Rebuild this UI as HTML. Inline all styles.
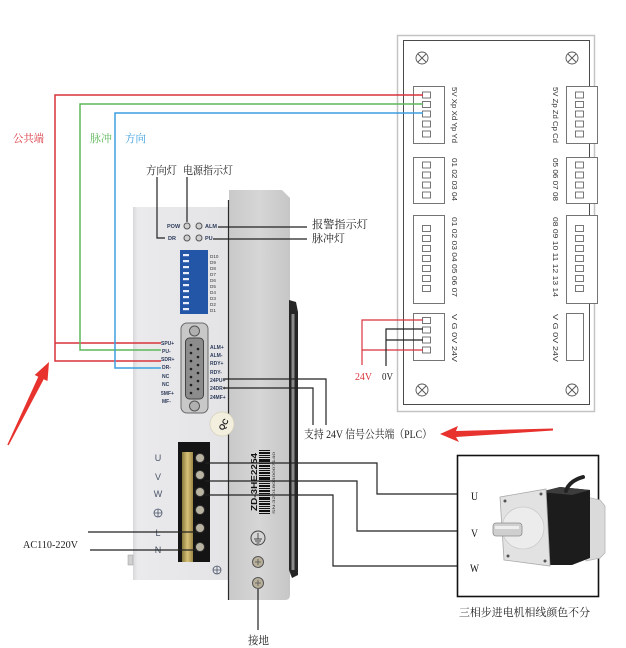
<!DOCTYPE html>
<html><head><meta charset="utf-8"><style>
html,body{margin:0;padding:0;background:#fff;}
svg{display:block;}
.cn{font-family:"Liberation Serif","Noto Serif CJK SC",serif;}
.s{font-family:"Liberation Sans",sans-serif;}
</style></head><body>
<svg width="626" height="648" viewBox="0 0 626 648" xmlns="http://www.w3.org/2000/svg">
<defs>
<linearGradient id="side" x1="0" y1="0" x2="1" y2="0">
<stop offset="0" stop-color="#c9c9c9"/><stop offset="0.5" stop-color="#d6d6d6"/><stop offset="1" stop-color="#c6c6c6"/>
</linearGradient>
<linearGradient id="front" x1="0" y1="0" x2="1" y2="0">
<stop offset="0" stop-color="#d8d8da"/><stop offset="0.05" stop-color="#eaeaec"/><stop offset="1" stop-color="#e4e4e6"/>
</linearGradient>
<linearGradient id="yel" x1="0" y1="0" x2="1" y2="0">
<stop offset="0" stop-color="#8a7a3c"/><stop offset="0.5" stop-color="#d8c27a"/><stop offset="1" stop-color="#9c8644"/>
</linearGradient>
</defs>

<!-- ===== Right board ===== -->
<rect x="397.5" y="35.5" width="197" height="376" fill="#fff" stroke="#c4c4c4" stroke-width="1.5"/>
<rect x="403.5" y="40.5" width="186" height="364" fill="#fff" stroke="#4a4a4a" stroke-width="1"/>
<g fill="#fff" stroke="#555" stroke-width="0.9">
<circle cx="422" cy="58" r="6"/><circle cx="572" cy="58" r="6"/>
<circle cx="422" cy="390" r="6"/><circle cx="572" cy="390" r="6"/>
</g>
<g stroke="#555" stroke-width="0.9">
<path d="M418,54 L426,62 M426,54 L418,62"/>
<path d="M568,54 L576,62 M576,54 L568,62"/>
<path d="M418,386 L426,394 M426,386 L418,394"/>
<path d="M568,386 L576,394 M576,386 L568,394"/>
</g>
<g fill="#fff" stroke="#666" stroke-width="0.9">
<rect x="413.5" y="86.5" width="31" height="57"/>
<rect x="413.5" y="157.5" width="31" height="46"/>
<rect x="413.5" y="215.5" width="31" height="88"/>
<rect x="413.5" y="313.5" width="31" height="47"/>
<rect x="566.5" y="86.5" width="31" height="57"/>
<rect x="566.5" y="157.5" width="31" height="46"/>
<rect x="566.5" y="215.5" width="31" height="88"/>
<rect x="566.5" y="313.5" width="17" height="47"/>
</g>
<g fill="#fff" stroke="#555" stroke-width="0.8">
<rect x="422.5" y="92" width="8" height="6"/><rect x="422.5" y="101.5" width="8" height="6"/><rect x="422.5" y="111" width="8" height="6"/><rect x="422.5" y="121" width="8" height="6"/><rect x="422.5" y="131" width="8" height="6"/>
<rect x="422.5" y="162" width="8" height="6"/><rect x="422.5" y="172" width="8" height="6"/><rect x="422.5" y="182" width="8" height="6"/><rect x="422.5" y="192" width="8" height="6"/>
<rect x="422.5" y="225.5" width="8" height="6"/><rect x="422.5" y="235.5" width="8" height="6"/><rect x="422.5" y="245.5" width="8" height="6"/><rect x="422.5" y="255.5" width="8" height="6"/><rect x="422.5" y="265.5" width="8" height="6"/><rect x="422.5" y="275.5" width="8" height="6"/><rect x="422.5" y="285.5" width="8" height="6"/>
<rect x="422.5" y="317.5" width="8" height="6"/><rect x="422.5" y="327" width="8" height="6"/><rect x="422.5" y="337" width="8" height="6"/><rect x="422.5" y="347" width="8" height="6"/>
<rect x="575.5" y="92" width="8" height="6"/><rect x="575.5" y="101.5" width="8" height="6"/><rect x="575.5" y="111" width="8" height="6"/><rect x="575.5" y="121" width="8" height="6"/><rect x="575.5" y="131" width="8" height="6"/>
<rect x="575.5" y="162" width="8" height="6"/><rect x="575.5" y="172" width="8" height="6"/><rect x="575.5" y="182" width="8" height="6"/><rect x="575.5" y="192" width="8" height="6"/>
<rect x="575.5" y="225.5" width="8" height="6"/><rect x="575.5" y="235.5" width="8" height="6"/><rect x="575.5" y="245.5" width="8" height="6"/><rect x="575.5" y="255.5" width="8" height="6"/><rect x="575.5" y="265.5" width="8" height="6"/><rect x="575.5" y="275.5" width="8" height="6"/><rect x="575.5" y="285.5" width="8" height="6"/>
</g>
<g class="s" font-size="7.5" fill="#333">
<text transform="translate(452,87) rotate(90)" textLength="56" lengthAdjust="spacingAndGlyphs">5V Xp Xd Yp Yd</text>
<text transform="translate(452,158) rotate(90)" textLength="43" lengthAdjust="spacingAndGlyphs">01 02 03 04</text>
<text transform="translate(452,217) rotate(90)" textLength="80" lengthAdjust="spacingAndGlyphs">01 02 03 04 05 06 07</text>
<text transform="translate(452,314) rotate(90)" textLength="48" lengthAdjust="spacingAndGlyphs">V  G  0V 24V</text>
<text transform="translate(553,87) rotate(90)" textLength="56" lengthAdjust="spacingAndGlyphs">5V Zp Zd Cp Cd</text>
<text transform="translate(553,158) rotate(90)" textLength="43" lengthAdjust="spacingAndGlyphs">05 06 07 08</text>
<text transform="translate(553,217) rotate(90)" textLength="80" lengthAdjust="spacingAndGlyphs">08 09 10 11 12 13 14</text>
<text transform="translate(553,314) rotate(90)" textLength="48" lengthAdjust="spacingAndGlyphs">V  G  0V 24V</text>
</g>

<!-- ===== Driver ===== -->
<path d="M229,190 L282,190 L290,198 L290,595 Q290,600 285,600 L229,600 Z" fill="url(#side)"/>
<rect x="133" y="207" width="95" height="373" fill="url(#front)"/>
<rect x="128" y="555" width="5" height="10" fill="#cfcfcf" stroke="#999" stroke-width="0.5"/>
<line x1="228.5" y1="200" x2="228.5" y2="600" stroke="#2a2a2a" stroke-width="1.2"/>
<!-- DIN clip -->
<path d="M289,300 L296,302 L298,312 L298,575 L292,578 L289,570 Z" fill="#262626"/>
<rect x="291.5" y="314" width="3" height="256" fill="#8a8a8a"/>

<!-- LEDs -->
<g fill="#d0d0d0" stroke="#555" stroke-width="1">
<circle cx="187" cy="226" r="3"/><circle cx="199" cy="226" r="3"/>
<circle cx="187" cy="238" r="3"/><circle cx="199" cy="238" r="3"/>
</g>
<g class="s" font-size="5.5" font-weight="bold" fill="#2c3a5a">
<text x="167" y="228">POW</text><text x="168" y="240">DR</text>
<text x="205" y="228">ALM</text><text x="205" y="240">PU</text>
</g>
<!-- DIP -->
<rect x="180" y="250" width="28" height="64" fill="#2456a8"/>
<g fill="#e8eefc">
<rect x="183" y="254" width="6" height="2.2"/><rect x="183" y="260" width="6" height="2.2"/><rect x="183" y="266" width="6" height="2.2"/><rect x="183" y="272" width="6" height="2.2"/><rect x="183" y="278" width="6" height="2.2"/><rect x="183" y="284" width="6" height="2.2"/><rect x="183" y="290" width="6" height="2.2"/><rect x="183" y="296" width="6" height="2.2"/><rect x="183" y="302" width="6" height="2.2"/><rect x="183" y="308" width="6" height="2.2"/>
</g>
<g class="s" font-size="4.6" fill="#333">
<text x="210" y="258">D10</text><text x="210" y="264">D9</text><text x="210" y="270">D8</text><text x="210" y="276">D7</text><text x="210" y="282">D6</text><text x="210" y="288">D5</text><text x="210" y="294">D4</text><text x="210" y="300">D3</text><text x="210" y="306">D2</text><text x="210" y="312">D1</text>
</g>
<!-- DB15 -->
<rect x="181" y="323" width="27" height="90" rx="6" fill="#c8c8c8" stroke="#6a6a6a" stroke-width="1"/>
<circle cx="194.5" cy="331" r="5" fill="#b0b0b0" stroke="#555" stroke-width="1"/>
<circle cx="194.5" cy="406" r="5" fill="#b0b0b0" stroke="#555" stroke-width="1"/>
<rect x="185.5" y="338" width="18" height="61" rx="4" fill="#8c8c8c" stroke="#444" stroke-width="1"/>
<g fill="#1f1f1f">
<circle cx="191" cy="345" r="1.3"/><circle cx="191" cy="353" r="1.3"/><circle cx="191" cy="361" r="1.3"/><circle cx="191" cy="369" r="1.3"/><circle cx="191" cy="377" r="1.3"/><circle cx="191" cy="385" r="1.3"/><circle cx="191" cy="393" r="1.3"/>
<circle cx="198" cy="349" r="1.3"/><circle cx="198" cy="357" r="1.3"/><circle cx="198" cy="365" r="1.3"/><circle cx="198" cy="373" r="1.3"/><circle cx="198" cy="381" r="1.3"/><circle cx="198" cy="389" r="1.3"/>
</g>
<g class="s" font-size="5" fill="#2c3a5a" font-weight="bold">
<text x="161" y="345">SPU+</text><text x="162" y="353">PU-</text><text x="161" y="361">SDR+</text><text x="162" y="369">DR-</text><text x="162" y="378">NC</text><text x="162" y="386">NC</text><text x="161" y="395">5MF+</text><text x="162" y="403">MF-</text>
<text x="210" y="349">ALM+</text><text x="210" y="357">ALM-</text><text x="210" y="365">RDY+</text><text x="210" y="374">RDY-</text><text x="210" y="382">24PU+</text><text x="210" y="390">24DR+</text><text x="210" y="399">24MF+</text>
</g>
<!-- QC sticker -->
<circle cx="222" cy="424" r="12" fill="#f3efdf" stroke="#d8d2bb" stroke-width="0.8"/>
<text class="s" transform="translate(223,431) rotate(-60)" font-size="8" font-weight="bold" fill="#222">QC</text>
<!-- terminal block -->
<rect x="178" y="442" width="32" height="120" fill="#141414"/>
<rect x="182" y="452" width="11" height="110" fill="url(#yel)"/>
<g fill="#b9b4a2" stroke="#333" stroke-width="1">
<circle cx="200" cy="458" r="4.5"/><circle cx="200" cy="475" r="4.5"/><circle cx="200" cy="492" r="4.5"/><circle cx="200" cy="510" r="4.5"/><circle cx="200" cy="528" r="4.5"/><circle cx="200" cy="547" r="4.5"/>
</g>
<g class="s" font-size="9" fill="#4a5468" text-anchor="middle">
<text x="158" y="461">U</text><text x="158" y="480">V</text><text x="158" y="497">W</text><text x="158" y="536">L</text><text x="158" y="553">N</text>
</g>
<g fill="none" stroke="#4a5468" stroke-width="0.8">
<circle cx="158" cy="513" r="4"/><path d="M154,513 H162 M158,509 V517"/>
<circle cx="217" cy="570" r="4"/><path d="M213,570 H221 M217,566 V574"/>
</g>
<!-- barcode label -->
<text class="s" transform="translate(257,511) rotate(-90)" font-size="8" font-weight="bold" fill="#111" textLength="58" lengthAdjust="spacingAndGlyphs">ZD-3HE2254</text>
<g fill="#111">
<rect x="259" y="450" width="11" height="1"/><rect x="259" y="452" width="11" height="2"/><rect x="259" y="455" width="11" height="1"/><rect x="259" y="457" width="11" height="1"/><rect x="259" y="459" width="11" height="3"/><rect x="259" y="463" width="11" height="1"/><rect x="259" y="465" width="11" height="2"/><rect x="259" y="468" width="11" height="1"/><rect x="259" y="470" width="11" height="1"/><rect x="259" y="472" width="11" height="2"/><rect x="259" y="475" width="11" height="1"/><rect x="259" y="477" width="11" height="3"/><rect x="259" y="481" width="11" height="1"/><rect x="259" y="483" width="11" height="1"/><rect x="259" y="485" width="11" height="2"/><rect x="259" y="488" width="11" height="1"/><rect x="259" y="490" width="11" height="2"/><rect x="259" y="493" width="11" height="1"/><rect x="259" y="495" width="11" height="1"/><rect x="259" y="497" width="11" height="3"/><rect x="259" y="501" width="11" height="1"/><rect x="259" y="503" width="11" height="2"/><rect x="259" y="506" width="11" height="1"/><rect x="259" y="508" width="11" height="1"/><rect x="259" y="510" width="11" height="2"/><rect x="259" y="513" width="11" height="1"/>
</g>
<text class="s" transform="translate(275,514) rotate(-90)" font-size="3.6" fill="#333" textLength="62" lengthAdjust="spacingAndGlyphs">SN:32018030007140</text>
<!-- ground symbol and screws -->
<circle cx="258" cy="538" r="7" fill="none" stroke="#444" stroke-width="1"/>
<path d="M258,533 V539 M254,539 H262 M255,541 H261 M256.5,543 H259.5" stroke="#444" stroke-width="0.9" fill="none"/>
<g fill="#b8b09a" stroke="#555" stroke-width="1">
<circle cx="258" cy="562" r="5.5"/><circle cx="258" cy="583" r="5.5"/>
</g>
<path d="M255,562 H261 M258,559 V565 M255,583 H261 M258,580 V586" stroke="#555" stroke-width="0.8"/>

<!-- ===== Wires ===== -->
<g fill="none" stroke-width="1.5">
<path d="M423,95 H55 V361 H161 M55,343 H161" stroke="#d8323c"/>
<path d="M423,104 H80 V350 H161" stroke="#5db85a"/>
<path d="M423,113 H115 V368 H161" stroke="#3b9fe0"/>
<path d="M423,320 H362 V365 M362,350 H423" stroke="#d8323c" stroke-width="1.2"/>
</g>
<g fill="none" stroke="#222" stroke-width="1.2">
<path d="M423,329 H386 V366 M386,340 H423"/>
<path d="M157,177 V238 H165"/>
<path d="M187,177 V222"/>
<path d="M218,227 H307"/>
<path d="M213,239 H307"/>
<path d="M223,379 H326 V425"/>
<path d="M223,388 H313 V425"/>
<path d="M205,463 H377 V494 H470"/>
<path d="M205,481 H357 V531 H470"/>
<path d="M205,495 H333 V566 H470"/>
<path d="M88,532 H197"/>
<path d="M90,550 H197"/>
<path d="M258,589 V630"/>
</g>

<!-- ===== Motor ===== -->
<rect x="457.5" y="455.5" width="141" height="141" fill="#fff" stroke="#111" stroke-width="1.6"/>
<path d="M586,497 L600,500 L605,506 L605,553 L600,558 L586,561 Z" fill="#dadada" stroke="#b5b5b5" stroke-width="0.8"/>
<polygon points="540,492 560,487 590,490 590,558 572,565 545,565" fill="#1c1c1c"/>
<polygon points="540,492 560,487 590,490 572,495" fill="#3c3c3c"/>
<polygon points="500,497 546,489 550,566 504,560" fill="#e2e2e2" stroke="#a8a8a8" stroke-width="0.8"/>
<circle cx="523" cy="528" r="21" fill="#ececec" stroke="#c9c9c9" stroke-width="0.8"/>
<g fill="#555"><circle cx="505" cy="501" r="1.5"/><circle cx="541" cy="494" r="1.5"/><circle cx="508" cy="556" r="1.5"/><circle cx="545" cy="561" r="1.5"/></g>
<rect x="493" y="523" width="29" height="13" rx="3" fill="#cfcfcf" stroke="#8c8c8c" stroke-width="0.8"/>
<rect x="495" y="526" width="24" height="3" fill="#eeeeee"/>
<path d="M566,491 Q569,481 583,477" fill="none" stroke="#222" stroke-width="4" stroke-linecap="round"/>

<!-- ===== Red arrows ===== -->
<polygon points="440,434 458,426 456,431 553,428.5 553,430.5 456,437 459,442" fill="#e8322e"/>
<polygon points="49,362 47.5,381 43.7,379.3 8.7,445.3 7.3,444.7 38.3,376.7 34.7,375" fill="#e8322e"/>

<!-- ===== Texts ===== -->
<g class="cn" font-size="11">
<text x="13" y="142" fill="#d8323c" textLength="31" lengthAdjust="spacingAndGlyphs">公共端</text>
<text x="90" y="142" fill="#5db85a" textLength="22" lengthAdjust="spacingAndGlyphs">脉冲</text>
<text x="125" y="142" fill="#3b9fe0" textLength="21" lengthAdjust="spacingAndGlyphs">方向</text>
<text x="146" y="174" fill="#222" textLength="31" lengthAdjust="spacingAndGlyphs">方向灯</text>
<text x="183" y="174" fill="#222" textLength="50" lengthAdjust="spacingAndGlyphs">电源指示灯</text>
<text x="312" y="228" fill="#222" textLength="56" lengthAdjust="spacingAndGlyphs">报警指示灯</text>
<text x="312" y="242" fill="#222" textLength="33" lengthAdjust="spacingAndGlyphs">脉冲灯</text>
<text x="355" y="380" fill="#d8323c" font-size="10" textLength="17" lengthAdjust="spacingAndGlyphs">24V</text>
<text x="382" y="380" fill="#222" font-size="10" textLength="11" lengthAdjust="spacingAndGlyphs">0V</text>
<text x="304" y="438" fill="#222" font-size="11.5" textLength="128" lengthAdjust="spacingAndGlyphs">支持 24V 信号公共端（PLC）</text>
<text x="23" y="548" fill="#222" font-size="10.5" textLength="55" lengthAdjust="spacingAndGlyphs">AC110-220V</text>
<text x="248" y="644" fill="#222" textLength="21" lengthAdjust="spacingAndGlyphs">接地</text>
<text x="459" y="616" fill="#222" textLength="131" lengthAdjust="spacingAndGlyphs">三相步进电机相线颜色不分</text>
<text x="471" y="500" fill="#111" font-size="12" textLength="7" lengthAdjust="spacingAndGlyphs">U</text>
<text x="471" y="537" fill="#111" font-size="12" textLength="7" lengthAdjust="spacingAndGlyphs">V</text>
<text x="470" y="572" fill="#111" font-size="12" textLength="9" lengthAdjust="spacingAndGlyphs">W</text>
</g>
</svg>
</body></html>
